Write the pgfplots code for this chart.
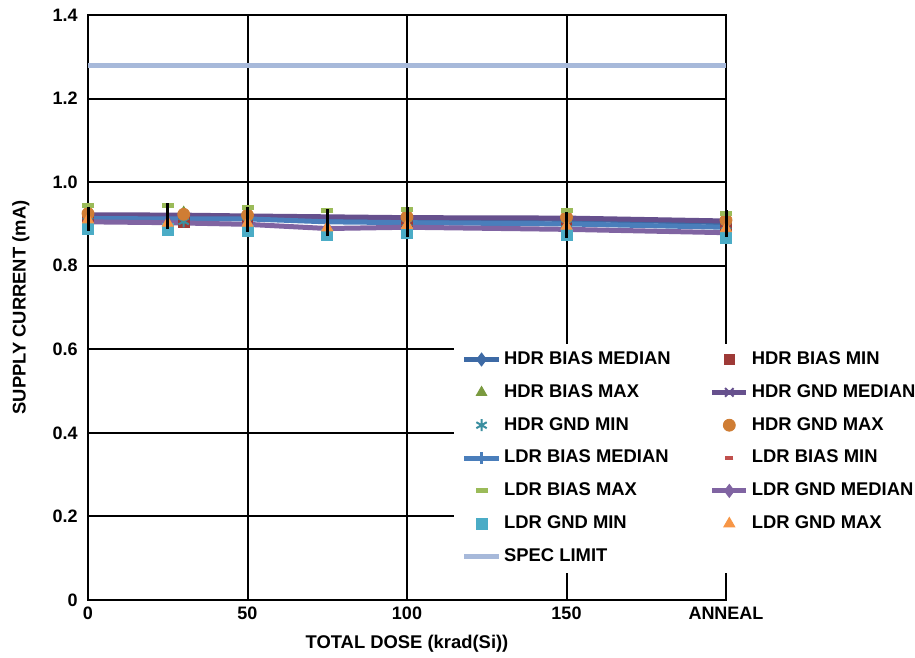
\documentclass[border=0pt]{standalone}
\usepackage{pgfplots}
\pgfplotsset{compat=1.18}
\usepackage{fontspec}
\setmainfont{Liberation Sans}
\definecolor{hbmed}{HTML}{3D6AA5}
\definecolor{hbmin}{HTML}{9E3A37}
\definecolor{hbmax}{HTML}{7A9A3F}
\definecolor{hgmed}{HTML}{66508D}
\definecolor{hgmin}{HTML}{3B8FA0}
\definecolor{hgmax}{HTML}{CF7D34}
\definecolor{lbmed}{HTML}{4A7EBB}
\definecolor{lbmin}{HTML}{C0504D}
\definecolor{lbmax}{HTML}{9BBB59}
\definecolor{lgmed}{HTML}{8064A2}
\definecolor{lgmin}{HTML}{4BACC6}
\definecolor{lgmax}{HTML}{F79646}
\definecolor{spec}{HTML}{A7B9DA}
\begin{document}
\begin{tikzpicture}
\begin{axis}[
  set layers,
  at={(0,0)}, anchor=south west,
  scale only axis, width=319pt, height=292.5pt,
  xmin=0, xmax=200, ymin=0, ymax=1.4,
  xtick={0,50,100,150,200}, xticklabels={0,50,100,150,ANNEAL},
  ytick={0,0.2,0.4,0.6,0.8,1.0,1.2,1.4},
  yticklabels={0,0.2,0.4,0.6,0.8,1.0,1.2,1.4},
  grid=major, major grid style={black, line width=1pt},
  axis line style={black, line width=1pt},
  major tick length=0pt,
  tick label style={font=\bfseries\fontsize{9}{10}\selectfont},
  xticklabel style={anchor=base, yshift=-10pt},
  yticklabel style={anchor=east, inner sep=0pt, xshift=-5pt},
  label style={font=\bfseries\fontsize{9.2}{11}\selectfont},
  xlabel={TOTAL DOSE (krad(Si))}, ylabel={SUPPLY CURRENT (mA)},
  x label style={at={(rel axis cs:0.5,0)}, anchor=base, yshift=-24.5pt},
  y label style={at={(rel axis cs:0,0.5)}, anchor=center, yshift=33.6pt},
  clip=false,
  legend columns=2,
  legend cell align=left,
  legend style={at={(rel axis cs:0.573,0.439)}, anchor=north west,
    draw=none, fill=white, font=\bfseries\fontsize{9.2}{11}\selectfont,
    inner xsep=4pt, inner ysep=4pt, row sep=8.5pt,
    nodes={inner sep=0pt},
    /tikz/every odd column/.append style={column sep=1.5pt},
    /tikz/every even column/.append style={column sep=19.5pt}},
]
\addplot[hbmed, line width=2.5pt, mark=diamond*, mark size=3.2pt, mark options={solid, line width=0.5pt}]
  coordinates {(0,0.918) (30,0.917) (50,0.916) (100,0.913) (150,0.911) (200,0.903)};
\addlegendentry{HDR BIAS MEDIAN}
\addplot[only marks, hbmin, mark=square*, mark size=2.6pt]
  coordinates {(0,0.905) (30,0.905) (50,0.903) (100,0.900) (150,0.899) (200,0.893)};
\addlegendentry{HDR BIAS MIN}
\addplot[only marks, hbmax, mark=triangle*, mark size=3pt]
  coordinates {(0,0.930) (30,0.928) (50,0.928) (100,0.925) (150,0.923) (200,0.915)};
\addlegendentry{HDR BIAS MAX}
\addplot[hgmed, line width=2.5pt, mark=x, mark size=3pt, mark options={solid, line width=1pt}]
  coordinates {(0,0.922) (30,0.921) (50,0.919) (100,0.915) (150,0.914) (200,0.907)};
\addlegendentry{HDR GND MEDIAN}
\addplot[only marks, hgmin, mark=asterisk, mark size=3pt, mark options={line width=1pt}]
  coordinates {(0,0.907) (30,0.906) (50,0.905) (100,0.902) (150,0.900) (200,0.895)};
\addlegendentry{HDR GND MIN}
\addplot[only marks, hgmax, mark=*, mark size=3pt]
  coordinates {(0,0.925) (30,0.923) (50,0.921) (100,0.917) (150,0.916) (200,0.909)};
\addlegendentry{HDR GND MAX}
\addplot[lbmed, line width=2.5pt, mark=|, mark size=3pt, mark options={solid, line width=1.2pt}]
  coordinates {(0,0.913) (25,0.912) (50,0.912) (75,0.905) (100,0.903) (150,0.900) (200,0.892)};
\addlegendentry{LDR BIAS MEDIAN}
\addplot[only marks, lbmin, mark=-, mark size=2pt, mark options={line width=2pt}]
  coordinates {(0,0.898) (25,0.897) (50,0.895) (75,0.888) (100,0.887) (150,0.884) (200,0.877)};
\addlegendentry{LDR BIAS MIN}
\addplot[only marks, lbmax, mark=-, mark size=3pt, mark options={line width=2.5pt}]
  coordinates {(0,0.943) (25,0.944) (50,0.939) (75,0.931) (100,0.935) (150,0.931) (200,0.925)};
\addlegendentry{LDR BIAS MAX}
\addplot[lgmed, line width=2.5pt, mark=diamond*, mark size=3.2pt, mark options={solid, line width=0.5pt}]
  coordinates {(0,0.905) (25,0.903) (50,0.899) (75,0.889) (100,0.892) (150,0.887) (200,0.879)};
\addlegendentry{LDR GND MEDIAN}
\addplot[only marks, lgmin, mark=square*, mark size=2.8pt]
  coordinates {(0,0.888) (25,0.887) (50,0.884) (75,0.874) (100,0.879) (150,0.874) (200,0.866)};
\addlegendentry{LDR GND MIN}
\addplot[only marks, lgmax, mark=triangle*, mark size=3.2pt]
  coordinates {(0,0.910) (25,0.902) (50,0.902) (75,0.891) (100,0.897) (150,0.895) (200,0.889)};
\addlegendentry{LDR GND MAX}
\addplot[spec, line width=2.5pt]
  coordinates {(0,1.28) (200,1.28)};
\addlegendentry{SPEC LIMIT}
\addplot[draw=none, forget plot, on layer=axis foreground,
  error bars/.cd, y dir=both, y explicit, error mark=none,
  error bar style={black, line width=1.5pt}]
  coordinates {
  (0,0.911) +- (0,0.029)
  (25,0.918) +- (0,0.031)
  (50,0.910) +- (0,0.030)
  (75,0.903) +- (0,0.032)
  (100,0.9045) +- (0,0.0355)
  (150,0.898) +- (0,0.031)
  (200,0.901) +- (0,0.032)};
\end{axis}
\pgfresetboundingbox
\useasboundingbox (-44pt,-29pt) rectangle (413.5pt,300pt);
\end{tikzpicture}
\end{document}
